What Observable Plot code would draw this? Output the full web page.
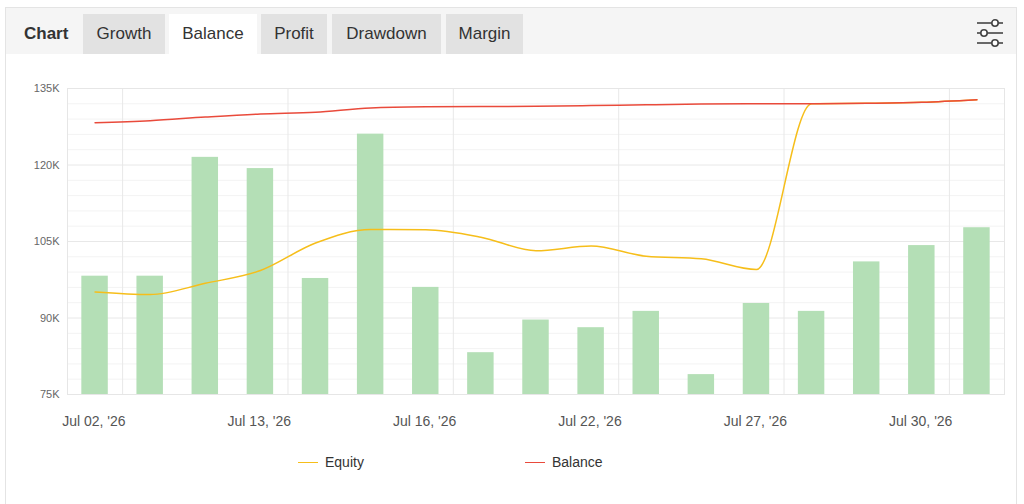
<!DOCTYPE html>
<html>
<head>
<meta charset="utf-8">
<script src="https://cdn.jsdelivr.net/npm/d3@7"></script>
<script src="https://cdn.jsdelivr.net/npm/@observablehq/plot@0.6"></script>
<style>
  html, body { margin: 0; padding: 0; background: #fff; width: 1024px; height: 504px; overflow: hidden; font-family: "Liberation Sans", Arial, sans-serif; }
  #card { position: absolute; left: 5px; top: 7px; width: 1012px; height: 520px; border: 1px solid #e4e4e4; box-sizing: border-box; }
  #header { position: absolute; left: 6px; top: 8px; width: 1010px; height: 46px; background: #f5f5f5; }
  .tab { position: absolute; top: 14px; height: 40px; line-height: 40px; font-size: 17px; color: #333; text-align: center; background: #e2e2e2; }
  .tab.active { background: #fff; }
  #charttitle { position: absolute; left: 24px; top: 14px; height: 40px; line-height: 40px; font-size: 17px; font-weight: bold; color: #333; }
  #icon { position: absolute; left: 974px; top: 18px; }
  #plot { position: absolute; left: 0; top: 60px; }
  .leg { position: absolute; top: 453px; font-size: 14px; color: #333; line-height: 18px; }
  .leg .sw { position: absolute; top: 9px; width: 20px; height: 0; border-top: 1.5px solid; }
</style>
</head>
<body>
<div id="card"></div>
<div id="header"></div>
<div id="charttitle">Chart</div>
<div class="tab" style="left:83px;width:82px">Growth</div>
<div class="tab active" style="left:169px;width:88px">Balance</div>
<div class="tab" style="left:261px;width:66px">Profit</div>
<div class="tab" style="left:332px;width:109px">Drawdown</div>
<div class="tab" style="left:446px;width:77px">Margin</div>
<svg id="icon" width="32" height="30" viewBox="0 0 32 30">
  <g stroke="#444" stroke-width="1.6" fill="#fff">
    <line x1="3" y1="5" x2="29" y2="5"/>
    <line x1="3" y1="15" x2="29" y2="15"/>
    <line x1="3" y1="25" x2="29" y2="25"/>
    <circle cx="21" cy="5" r="3.2"/>
    <circle cx="10" cy="15" r="3.2"/>
    <circle cx="21" cy="25" r="3.2"/>
  </g>
</svg>
<div id="plot"></div>
<div class="leg" style="left:298px"><span class="sw" style="left:0;border-color:#f6be1a"></span><span style="position:absolute;left:27px;white-space:nowrap">Equity</span></div>
<div class="leg" style="left:525px"><span class="sw" style="left:0;border-color:#e94a3b"></span><span style="position:absolute;left:27px;white-space:nowrap">Balance</span></div>
<script>
// ---- data ----
const barValues = [98200, 98200, 121500, 119300, 97750, 126050, 96000, 83200, 89600, 88100, 91300, 78900, 92850, 91300, 101000, 104200, 107700];
const equity = [95100, 94600, 96800, 99300, 104700, 107350, 107300, 105850, 103200, 104100, 102100, 101600, 99500, 132000, 132100, 132300, 132800];
const balance = [128300, 128700, 129400, 130000, 130350, 131200, 131400, 131450, 131500, 131650, 131800, 131950, 132000, 132000, 132100, 132300, 132800];
const xTickLabels = ["Jul 02, '26", "Jul 13, '26", "Jul 16, '26", "Jul 22, '26", "Jul 27, '26", "Jul 30, '26"];
const xTickIndex = [1, 4, 7, 10, 13, 16];
const yTicks = [75000, 90000, 105000, 120000, 135000];
const yMinorTicks = d3.range(78000, 135000, 3000).filter(v => (v - 75000) % 15000 !== 0);

const rows = barValues.map((v, i) => ({i, bar: v, equity: equity[i], balance: balance[i]}));
const labelOf = new Map(xTickIndex.map((t, k) => [t, xTickLabels[k]]));

const chart = Plot.plot({
  width: 1024,
  height: 380,
  marginLeft: 67,
  marginRight: 20,
  marginTop: 28,
  marginBottom: 46,
  style: {fontFamily: "'Liberation Sans', Arial, sans-serif", background: "transparent"},
  x: {type: "linear", domain: [0, barValues.length]},
  y: {domain: [75000, 135000]},
  marks: [
    Plot.ruleY(yMinorTicks, {stroke: "#f3f3f3", strokeWidth: 1}),
    Plot.ruleY(yTicks, {stroke: "#e8e8e8", strokeWidth: 1}),
    Plot.ruleX(xTickIndex, {stroke: "#e8e8e8", strokeWidth: 1}),
    Plot.frame({stroke: "#e6e6e6"}),
    Plot.rectY(rows, {x1: d => d.i + 0.26, x2: d => d.i + 0.74, y1: 75000, y2: "bar", fill: "#b4dfb6"}),
    Plot.line(rows, {x: d => d.i + 0.5, y: "equity", stroke: "#f6be1a", strokeWidth: 1.5, curve: "monotone-x"}),
    Plot.line(rows, {x: d => d.i + 0.5, y: "balance", stroke: "#e94a3b", strokeWidth: 1.5, curve: "monotone-x"}),
    Plot.axisY({ticks: yTicks, tickFormat: d => (d / 1000) + "K", tickSize: 0, tickPadding: 8, fontSize: 11, color: "#666"}),
    Plot.axisX({ticks: xTickIndex, tickFormat: d => labelOf.get(d), tickSize: 0, tickPadding: 22, textAnchor: "end", dx: 3, fontSize: 14, color: "#555"})
  ]
});
document.getElementById("plot").appendChild(chart);
</script>
</body>
</html>
